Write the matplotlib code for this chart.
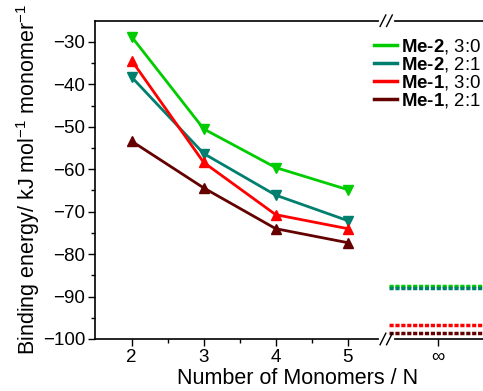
import matplotlib
matplotlib.use("Agg")
import matplotlib.pyplot as plt
from matplotlib.lines import Line2D
from matplotlib.transforms import blended_transform_factory

plt.rcParams["font.family"] = ["Liberation Sans", "DejaVu Sans"]
plt.rcParams["mathtext.fontset"] = "custom"
plt.rcParams["mathtext.rm"] = "Liberation Sans"
plt.rcParams["mathtext.bf"] = "Liberation Sans:bold"

# data
n = [2, 3, 4, 5]
me2_30 = [-28.8, -50.5, -59.6, -64.8]
me2_21 = [-38.3, -56.3, -66.1, -72.1]
me1_30 = [-34.4, -58.4, -70.7, -74.0]
me1_21 = [-53.4, -64.4, -74.0, -77.3]
# values at N -> infinity
inf_vals = [-87.4, -88.0, -96.7, -98.5]

labels = [r"$\mathbf{Me‐2}$, 3:0", r"$\mathbf{Me‐2}$, 2:1",
          r"$\mathbf{Me‐1}$, 3:0", r"$\mathbf{Me‐1}$, 2:1"]
colors = ["#00cc00", "#007f6e", "#ff0000", "#640000"]
markers = ["v", "v", "^", "^"]

x_inf = 6.25
x_break = 5.54
x_max = 6.88

fig = plt.figure(figsize=(4.83, 3.91), dpi=100)
ax = fig.add_axes([0.1967, 0.133, 0.8033, 0.814])

for ys, c, m, yi in zip([me2_30, me2_21, me1_30, me1_21], colors, markers, inf_vals):
    ax.plot(n, ys, color=c, marker=m, ms=7.5, lw=2)
    ax.plot([x_break + 0.04, x_max], [yi, yi], color=c, lw=2.5, ls=(0, (1.2, 0.5)))

ax.set_xlim(1.49, x_max)
ax.set_ylim(-100, -25)
ax.set_xticks(n + [x_inf])
ax.set_xticklabels([str(v) for v in n] + ["∞"])
ax.set_xticks([2.5, 3.5, 4.5], minor=True)
ax.set_yticks(range(-100, -25, 10))
ax.set_yticklabels([f"\u2212{abs(v)}" for v in range(-100, -25, 10)])
ax.set_yticks(range(-95, -25, 10), minor=True)
ax.tick_params(which="major", direction="out", length=5, width=1, labelsize=13.5, pad=2)
ax.tick_params(which="minor", direction="out", length=3, width=1)
ax.spines["right"].set_visible(False)
for s in ["left", "bottom", "top"]:
    ax.spines[s].set_linewidth(1.2)

# axis break marks
tr = blended_transform_factory(ax.transData, ax.transAxes)
for yb in [0, 1]:
    ax.plot([x_break - 0.08, x_break + 0.08], [yb, yb], color="white", lw=3,
            transform=tr, clip_on=False, zorder=5)
    for dx in [-0.05, 0.04]:
        ax.plot([x_break + dx - 0.04, x_break + dx + 0.04], [yb - 0.018, yb + 0.018],
                color="black", lw=1, transform=tr, clip_on=False, zorder=6)

ax.set_xlabel("Number of Monomers / N", fontsize=15.5, labelpad=2)
ax.xaxis.set_label_coords(0.523, -0.09)
ax.set_ylabel(r"Binding energy/ kJ mol$^{\mathregular{-1}}$ monomer$^{\mathregular{-1}}$",
              fontsize=15.5, labelpad=1)

handles = [Line2D([], [], color=c, lw=2.5) for c in colors]
ax.legend(handles, labels, loc="upper right", bbox_to_anchor=(1.025, 0.985), frameon=False,
          fontsize=13.4, handlelength=1.25, handletextpad=0.25,
          labelspacing=-0.05, borderaxespad=0.2)

fig.savefig("out.png", dpi=100)
